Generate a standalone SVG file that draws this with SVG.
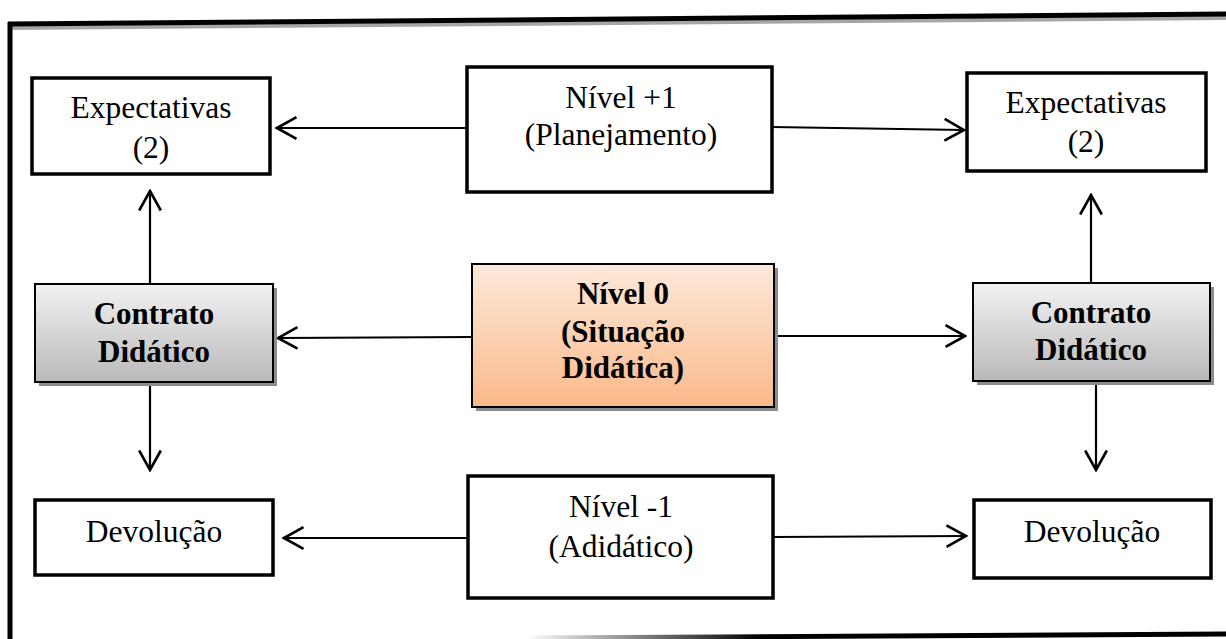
<svg xmlns="http://www.w3.org/2000/svg" width="1226" height="639" viewBox="0 0 1226 639">
  <style>
    .box { fill: #ffffff; stroke: #000000; stroke-width: 3.5; }
    .shade { fill: #8c8c8c; }
    .plain { font-family: "Liberation Serif", "Times New Roman", serif; font-size: 31.5px; fill: #000; text-anchor: middle; }
    .bold { font-family: "Liberation Serif", "Times New Roman", serif; font-size: 31px; font-weight: bold; fill: #000; text-anchor: middle; }
    .conn { stroke: #000; stroke-width: 2.2; fill: none; marker-end: url(#chev); }
    .frame { stroke: #000; stroke-width: 5; fill: none; }
  </style>
  <defs>
    <marker id="chev" markerUnits="userSpaceOnUse" markerWidth="24" markerHeight="26" viewBox="-20 -12 22 24" refX="0" refY="0" orient="auto">
      <path d="M -18 -10 L 0 0 L -18 10" fill="none" stroke="#000" stroke-width="2.4"/>
    </marker>
    <linearGradient id="greyFill" x1="0" y1="0" x2="0" y2="1">
      <stop offset="0" stop-color="#f2f2f2"/>
      <stop offset="1" stop-color="#b9b9b9"/>
    </linearGradient>
    <linearGradient id="orangeFill" x1="0" y1="0" x2="0" y2="1">
      <stop offset="0" stop-color="#fde9da"/>
      <stop offset="1" stop-color="#fab98a"/>
    </linearGradient>
    <linearGradient id="bottomEdge" x1="525" y1="0" x2="760" y2="0" gradientUnits="userSpaceOnUse">
      <stop offset="0" stop-color="#ffffff"/>
      <stop offset="1" stop-color="#000000"/>
    </linearGradient>
  </defs>

  <!-- outer frame -->
  <g id="frame">
    <line x1="10" y1="28" x2="1226" y2="18" stroke="#a6a6a6" stroke-width="4"/>
    <line x1="8" y1="24" x2="1226" y2="14" class="frame"/>
    <line x1="10" y1="22" x2="10" y2="639" class="frame"/>
    <line x1="525" y1="638" x2="1226" y2="634" stroke="url(#bottomEdge)" stroke-width="5"/>
  </g>

  <!-- connectors -->
  <g id="connectors">
    <line x1="467" y1="128" x2="277" y2="128" class="conn"/>
    <line x1="772" y1="127" x2="964" y2="130" class="conn"/>
    <line x1="472" y1="337" x2="278" y2="338" class="conn"/>
    <line x1="774" y1="336" x2="965" y2="336" class="conn"/>
    <line x1="468" y1="538" x2="284" y2="538" class="conn"/>
    <line x1="773" y1="537" x2="966" y2="536" class="conn"/>
    <line x1="150" y1="284" x2="150" y2="191" class="conn"/>
    <line x1="150" y1="382" x2="150" y2="470" class="conn"/>
    <line x1="1091" y1="283" x2="1091" y2="195" class="conn"/>
    <line x1="1096" y1="381" x2="1096" y2="470" class="conn"/>
  </g>

  <g id="expectativas-left">
    <rect x="32" y="78" width="238" height="96" class="box"/>
    <text class="plain" x="151" y="118">Expectativas</text>
    <text class="plain" x="151" y="158">(2)</text>
  </g>

  <g id="nivel-mais-1">
    <rect x="467" y="67" width="305" height="125" class="box"/>
    <text class="plain" x="621" y="108">Nível +1</text>
    <text class="plain" x="621" y="145">(Planejamento)</text>
  </g>

  <g id="expectativas-right">
    <rect x="967" y="73" width="239" height="98" class="box"/>
    <text class="plain" x="1086" y="113">Expectativas</text>
    <text class="plain" x="1086" y="152">(2)</text>
  </g>

  <g id="contrato-left">
    <rect x="39" y="288" width="238" height="98" class="shade"/>
    <rect x="35" y="284" width="238" height="98" fill="url(#greyFill)" stroke="#000" stroke-width="2"/>
    <text class="bold" x="154" y="324">Contrato</text>
    <text class="bold" x="154" y="362">Didático</text>
  </g>

  <g id="nivel-0">
    <rect x="476" y="268" width="302" height="143" class="shade"/>
    <rect x="472" y="264" width="302" height="143" fill="url(#orangeFill)" stroke="#000" stroke-width="2"/>
    <text class="bold" x="623" y="304">Nível 0</text>
    <text class="bold" x="623" y="342">(Situação</text>
    <text class="bold" x="623" y="378">Didática)</text>
  </g>

  <g id="contrato-right">
    <rect x="977" y="287" width="237" height="98" class="shade"/>
    <rect x="973" y="283" width="237" height="98" fill="url(#greyFill)" stroke="#000" stroke-width="2"/>
    <text class="bold" x="1091" y="323">Contrato</text>
    <text class="bold" x="1091" y="360">Didático</text>
  </g>

  <g id="devolucao-left">
    <rect x="35" y="500" width="238" height="75" class="box"/>
    <text class="plain" x="154" y="542">Devolução</text>
  </g>

  <g id="nivel-menos-1">
    <rect x="468" y="476" width="305" height="122" class="box"/>
    <text class="plain" x="621" y="517">Nível -1</text>
    <text class="plain" x="621" y="557">(Adidático)</text>
  </g>

  <g id="devolucao-right">
    <rect x="974" y="500" width="237" height="78" class="box"/>
    <text class="plain" x="1092" y="542">Devolução</text>
  </g>
</svg>
